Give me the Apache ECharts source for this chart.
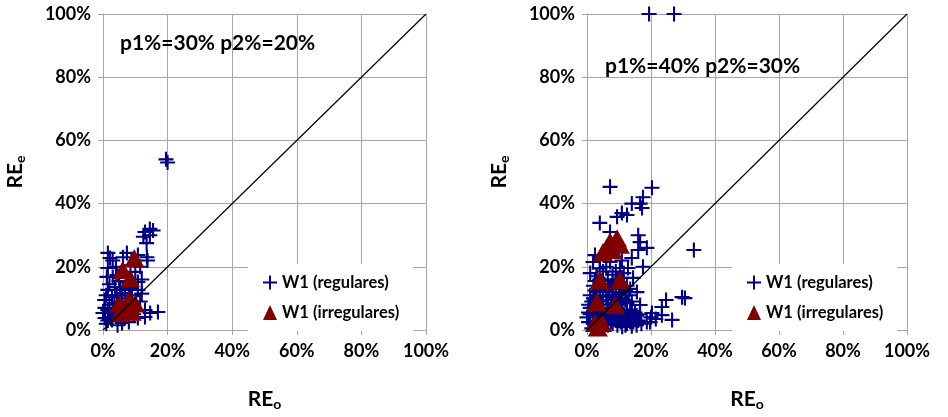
<!DOCTYPE html>
<html>
<head>
<meta charset="utf-8">
<script src="https://cdn.jsdelivr.net/npm/echarts@6/dist/echarts.min.js"></script>
<style>
  html, body { margin: 0; padding: 0; background: #fff; }
  #chart { width: 948px; height: 417px; }
</style>
</head>
<body>
<div id="chart"></div>
<script>
// Percent tick values shared by both panels
const tickValues = [0, 20, 40, 60, 80, 100];

// Panel 1: p1% = 30%, p2% = 20%   ([REo %, REe %])
const leftRegular = [
  [19.5, 54], [20, 53],
  [13, 31], [14.5, 32], [15.5, 31.5], [12.5, 29.5], [13.5, 27.5], [14.5, 30],
  [1.5, 24.4], [2.2, 22.8], [3, 22], [7.4, 24.4], [6.2, 23], [10.8, 23.7], [13.6, 23], [13.8, 22],
  [1.5, 19.6], [1.2, 16.8], [3, 16.8], [4.3, 17.4], [10, 18.4], [11.5, 20], [10.8, 15.2], [12, 16],
  [1.5, 12.7], [3.7, 13.6], [5.3, 12.7], [2.8, 10.4], [4.3, 11], [5.9, 11.7], [6.8, 12.7], [8.4, 13.3],
  [9, 11], [10.8, 12.7], [7.5, 15], [5, 15.5], [2, 14.5], [8, 10], [6, 9], [3.5, 8.5],
  [0.6, 7], [0, 5.4], [1.5, 6.3], [2.2, 4.1], [0.6, 3.8], [2.8, 3.2], [5.9, 2.2], [6.8, 3.8],
  [3.7, 5.4], [13, 6.3], [14.6, 5.4], [17, 5.7], [13, 4.1], [10.8, 3.8], [7.4, 6.3], [1, 2],
  [4.5, 1.5], [8, 2.5], [2, 8], [0.5, 9.5], [9.5, 5], [11.5, 9], [4, 20], [8.5, 20.5],
  [1, 11], [12, 11.5], [1.5, 3], [3, 6]
];
const leftIrregular = [
  [9.7, 22.7], [6.1, 19], [8.4, 16.4], [5.0, 8.4], [8.1, 9.5], [9.9, 8.4], [5.3, 5.3], [8.9, 5.8]
];

// Panel 2: p1% = 40%, p2% = 30%
const rightRegular = [
  [19.4, 100], [27.2, 100],
  [33.4, 25.3],
  [30.6, 10.1], [29.7, 10.4], [24.7, 9.5], [23.4, 7.3], [20.3, 5.4], [23.4, 4.7], [26.6, 3.2],
  [19.7, 2.5], [18.7, 2.5], [21.5, 3.5],
  [7.2, 45.3], [20.3, 45], [17.5, 42], [16.6, 40], [14, 40], [17.2, 38.6], [10.9, 37], [12.5, 36.4],
  [9.4, 35.8], [4, 33.9], [7.2, 31], [16, 30], [16.6, 27.8], [18.7, 26], [16, 25.3], [17.5, 20],
  [2.5, 23.7], [1.9, 21.5], [4, 22], [7.2, 21.5], [10.9, 22], [14, 22.8], [10.3, 19.6], [12.8, 19.6],
  [14.4, 16.5], [15.6, 12], [16.6, 7.9], [20, 4],
  [1, 18], [3, 17], [5, 18.5], [6.5, 16], [8, 17.5], [11, 16.5], [12.5, 14], [2, 14], [4, 13],
  [6, 12.5], [7.5, 14], [9, 13], [10.5, 12], [13, 11], [1, 11], [3, 10], [5, 11], [6.5, 9.5],
  [8, 11], [9.5, 9], [11, 10], [12.5, 8.5], [14, 9], [0.5, 8], [2, 7], [3.5, 8], [5, 6.5],
  [6.5, 7], [8, 6], [9.5, 7], [11, 6], [12.5, 5.5], [14, 6], [15.5, 4.5], [1, 5], [2.5, 4.5],
  [4, 5], [5.5, 4], [7, 4.5], [8.5, 3.5], [10, 4], [11.5, 3], [13, 3.5], [14.5, 2.5], [16, 3],
  [17, 2], [0.5, 2.5], [2, 2], [3.5, 1.5], [5, 2.5], [6.5, 1.5], [8, 2], [9.5, 1.5], [11, 1],
  [12.5, 2], [14, 1.2], [1.5, 0.5], [0, 4], [1, 7], [3, 12], [4.5, 15.5], [9, 15], [11.5, 18],
  [6, 20], [13.5, 6.5],
  [2, 10], [4, 9], [6, 10.5], [7.5, 8], [9, 10.5], [10.5, 8], [12, 9.5], [2.5, 12.5], [5, 13.5],
  [7, 12], [8.5, 8.5], [10, 11.5], [3, 5.5], [4.5, 7], [6, 5], [7.5, 5.5], [9, 4.5], [10.5, 5],
  [12, 4], [13.5, 4.5], [15, 5.5], [1.5, 9], [3.5, 3], [6, 3], [7.5, 2.5], [9, 3], [10.5, 2.5],
  [12, 1.5], [13.5, 2.5], [15.5, 1.5], [16.5, 5], [0.5, 5.5], [2.5, 15.5], [5.5, 14.5], [8, 15.5],
  [10, 14], [12, 12.5], [13.5, 13], [4, 19.5], [9, 18.5]
];
const rightIrregular = [
  [6.2, 26], [9.4, 29], [10.3, 27], [7.2, 28], [8, 25.3], [5, 24.7],
  [4, 15.8], [10.3, 15.8], [3.1, 8.9], [8.8, 7.9], [2.5, 2.2], [4.7, 2.2], [3.4, 0.8]
];

// Panel annotations and legend names
const panelNotes = ['p1%=30% p2%=20%', 'p1%=40% p2%=30%'];
const nameRegular = 'W1 (regulares)';
const nameIrregular = 'W1 (irregulares)';

const FONT = 'Lato, "Open Sans", sans-serif';
const GRID_COLOR = '#a6a6a6';
const PLUS = 'path://M43,0H57V43H100V57H57V100H43V57H0V43H43Z';
const NAVY = '#000080';
const MAROON = '#7f0000';

const grids = [
  { left: 103, top: 14, width: 323, height: 316 },
  { left: 587, top: 14, width: 320, height: 316 }
];

const nameRich = {
  a: { fontFamily: FONT, fontWeight: 'bold', fontSize: 21, color: '#000', lineHeight: 26 },
  b: { fontFamily: FONT, fontWeight: 'bold', fontSize: 14, color: '#000', lineHeight: 26, padding: [11, 0, 0, 0] }
};

function xAxisFor(i) {
  return {
    gridIndex: i, type: 'value', min: tickValues[0], max: tickValues[tickValues.length - 1], interval: 20,
    name: '{a|RE}{b|o}', nameLocation: 'middle', nameGap: 56,
    nameTextStyle: { rich: nameRich },
    axisLine: { lineStyle: { color: GRID_COLOR, width: 1 } },
    axisTick: { show: true, length: 5, lineStyle: { color: GRID_COLOR } },
    axisLabel: { formatter: '{value}%', fontFamily: FONT, fontWeight: 'bold', fontSize: 18, color: '#000', margin: 12 },
    splitLine: { lineStyle: { color: GRID_COLOR, width: 1 } }
  };
}
function yAxisFor(i) {
  return {
    gridIndex: i, type: 'value', min: tickValues[0], max: tickValues[tickValues.length - 1], interval: 20,
    name: '{a|RE}{b|e}', nameLocation: 'middle', nameGap: 75, nameRotate: 90,
    nameTextStyle: { rich: nameRich },
    axisLine: { show: true, lineStyle: { color: GRID_COLOR, width: 1 } },
    axisTick: { show: true, length: 5, lineStyle: { color: GRID_COLOR } },
    axisLabel: { formatter: '{value}%', fontFamily: FONT, fontWeight: 'bold', fontSize: 18, color: '#000', margin: 12 },
    splitLine: { lineStyle: { color: GRID_COLOR, width: 1 } }
  };
}

function panelSeries(i, regular, irregular) {
  return [
    {
      name: nameRegular, type: 'scatter', xAxisIndex: i, yAxisIndex: i,
      symbol: PLUS, symbolSize: 15, itemStyle: { color: NAVY, opacity: 1 },
      data: regular, z: 3
    },
    {
      name: nameIrregular, type: 'scatter', xAxisIndex: i, yAxisIndex: i,
      symbol: 'triangle', symbolSize: [20, 18], itemStyle: { color: MAROON, opacity: 1 },
      data: irregular, z: 4
    },
    {
      type: 'line', xAxisIndex: i, yAxisIndex: i, symbol: 'none', silent: true,
      lineStyle: { color: '#000', width: 1.2 },
      data: [[tickValues[0], tickValues[0]], [tickValues[5], tickValues[5]]], z: 5
    }
  ];
}

function legendFor(left) {
  return {
    orient: 'vertical', left: left, top: 264,
    backgroundColor: '#fff', padding: [9, 14, 9, 15], itemGap: 11,
    itemWidth: 14, itemHeight: 15,
    data: [nameRegular, nameIrregular],
    textStyle: { fontFamily: FONT, fontWeight: 'bold', fontSize: 16.5, color: '#000', lineHeight: 19 },
    selectedMode: false, z: 6
  };
}

const chart = echarts.init(document.getElementById('chart'), null, { renderer: 'canvas' });
chart.setOption({
  backgroundColor: '#fff',
  animation: false,
  grid: grids,
  xAxis: [xAxisFor(0), xAxisFor(1)],
  yAxis: [yAxisFor(0), yAxisFor(1)],
  legend: [legendFor(248), legendFor(732)],
  graphic: [
    { type: 'text', left: 120, top: 33, z: 10,
      style: { text: panelNotes[0], font: 'bold 21px ' + FONT, fill: '#000' } },
    { type: 'text', left: 605, top: 56, z: 10,
      style: { text: panelNotes[1], font: 'bold 21px ' + FONT, fill: '#000' } }
  ],
  series: [
    ...panelSeries(0, leftRegular, leftIrregular),
    ...panelSeries(1, rightRegular, rightIrregular)
  ]
});
</script>
</body>
</html>
